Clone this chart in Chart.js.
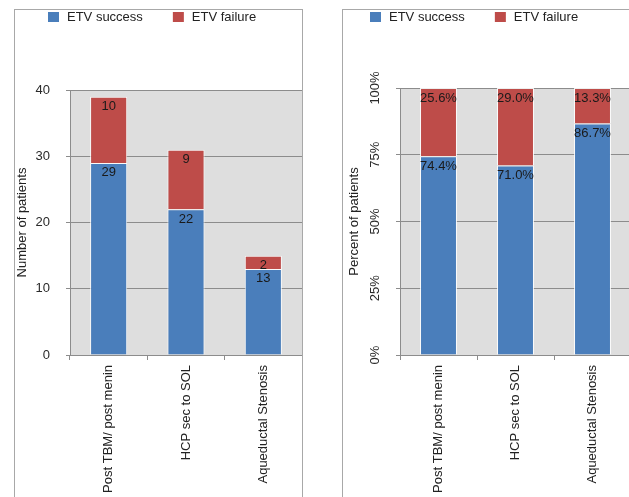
<!DOCTYPE html>
<html>
<head>
<meta charset="utf-8">
<script src="https://cdn.jsdelivr.net/npm/chart.js@4/dist/chart.umd.min.js"></script>
<style>
html, body { margin: 0; padding: 0; background: #fff; width: 629px; height: 497px; overflow: hidden; }
.panel { position: absolute; top: 9px; height: 530px; border: 1px solid #a8a8a8; overflow: hidden; background: #fff; }
#p1 { left: 14px; width: 287px; }
#p2 { left: 342px; width: 300px; }
canvas { display: block; }
</style>
</head>
<body>
<div class="panel" id="p1"><canvas id="countChart" width="287" height="490"></canvas></div>
<div class="panel" id="p2"><canvas id="pctChart" width="288" height="490"></canvas></div>
<script>
// categories + series
const categories = ['Post TBM/ post menin', 'HCP sec to SOL', 'Aqueductal Stenosis'];
const seriesNames = ['ETV success', 'ETV failure'];
const successCount = [29, 22, 13];
const failureCount = [10, 9, 2];
const successPct = [74.4, 71.0, 86.7];
const failurePct = [25.6, 29.0, 13.3];
// axis ticks
const countTicks = [0, 10, 20, 30, 40];
const pctTicks = [0, 25, 50, 75, 100];

const BLUE = '#4a7ebb';
const RED = '#be4c49';
const FONT = "'Liberation Sans', Arial, sans-serif";
const GRID = '#8c8c8c';

Chart.defaults.font.family = FONT;
Chart.defaults.font.size = 13;
Chart.defaults.color = '#2a2a2a';

// grey plot background
const plotBg = {
  id: 'plotBg',
  beforeDraw(c) {
    const a = c.chartArea, ctx = c.ctx;
    ctx.save();
    ctx.fillStyle = '#dedede';
    ctx.fillRect(a.left, a.top, a.right - a.left, a.bottom - a.top);
    ctx.restore();
  }
};

// value labels near the top of each segment
const barLabels = {
  id: 'barLabels',
  afterDatasetsDraw(c, args, opts) {
    const ctx = c.ctx;
    ctx.save();
    ctx.font = '13px ' + FONT;
    ctx.fillStyle = '#1a1a1a';
    ctx.textAlign = 'center';
    ctx.textBaseline = 'middle';
    c.data.datasets.forEach((ds, i) => {
      c.getDatasetMeta(i).data.forEach((el, j) => {
        const v = ds.data[j];
        const txt = opts.pct ? v.toFixed(1) + '%' : String(v);
        ctx.fillText(txt, el.x, el.y + opts.dy);
      });
    });
    ctx.restore();
  }
};

// square-box legend drawn at a fixed start
const boxLegend = {
  id: 'boxLegend',
  afterDraw(c, args, opts) {
    const ctx = c.ctx;
    ctx.save();
    ctx.font = '13px ' + FONT;
    ctx.textBaseline = 'middle';
    ctx.textAlign = 'left';
    let x = opts.x;
    const y = opts.y;
    c.data.datasets.forEach(ds => {
      ctx.fillStyle = ds.backgroundColor;
      ctx.fillRect(x, y - 5, 11, 10);
      x += 11 + 8;
      ctx.fillStyle = '#222';
      ctx.fillText(ds.label, x, y);
      x += ctx.measureText(ds.label).width + opts.gap;
    });
    ctx.restore();
  }
};

// rotated y tick labels (percent chart)
const sideTicks = {
  id: 'sideTicks',
  afterDraw(c, args, opts) {
    if (!opts.on) return;
    const s = c.scales.y, ctx = c.ctx;
    ctx.save();
    ctx.font = '13px ' + FONT;
    ctx.fillStyle = '#2a2a2a';
    ctx.textAlign = 'center';
    ctx.textBaseline = 'middle';
    s.ticks.forEach(t => {
      ctx.save();
      ctx.translate(opts.x, s.getPixelForValue(t.value));
      ctx.rotate(-Math.PI / 2);
      ctx.fillText(t.value + '%', 0, 0);
      ctx.restore();
    });
    ctx.restore();
  }
};

function makeChart(id, succ, fail, cfg) {
  return new Chart(document.getElementById(id), {
    type: 'bar',
    data: {
      labels: categories,
      datasets: [
        { label: seriesNames[0], data: succ, backgroundColor: BLUE, borderColor: 'rgba(255,255,255,0.85)', borderWidth: 1 },
        { label: seriesNames[1], data: fail, backgroundColor: RED, borderColor: 'rgba(255,255,255,0.85)', borderWidth: 1 }
      ]
    },
    options: {
      responsive: false,
      animation: false,
      layout: { padding: { top: cfg.top, left: 0, right: 0, bottom: 0 } },
      datasets: { bar: { categoryPercentage: 1, barPercentage: 0.48 } },
      plugins: {
        legend: { display: false },
        tooltip: { enabled: false },
        barLabels: { pct: cfg.pct, dy: 10 },
        boxLegend: { x: cfg.legendX, y: 7, gap: 30 },
        sideTicks: { on: cfg.pct, x: 32 }
      },
      scales: {
        x: {
          stacked: true,
          grid: { drawOnChartArea: false, offset: true, tickLength: 5, color: GRID },
          border: { color: GRID },
          ticks: { minRotation: 90, maxRotation: 90, padding: 5, color: '#222', autoSkip: false },
          afterFit: s => { s.height = 490 - 345; }
        },
        y: {
          stacked: true,
          min: 0,
          max: cfg.max,
          afterBuildTicks: s => { s.ticks = cfg.ticks.map(v => ({ value: v })); },
          grid: { color: GRID, tickLength: 4 },
          border: { color: GRID },
          ticks: { display: !cfg.pct, padding: 16, color: '#2a2a2a' },
          title: { display: true, text: cfg.title, color: '#222', padding: { top: cfg.titlePad, bottom: 0 } },
          afterFit: s => { s.width = cfg.axisW; }
        }
      }
    },
    plugins: [plotBg, barLabels, boxLegend, sideTicks]
  });
}

makeChart('countChart', successCount, failureCount, {
  pct: false, max: 40, ticks: countTicks, title: 'Number of patients',
  top: 80, axisW: 55, titlePad: 0, legendX: 33
});
makeChart('pctChart', successPct, failurePct, {
  pct: true, max: 100, ticks: pctTicks, title: 'Percent of patients',
  top: 78, axisW: 57, titlePad: 4, legendX: 27
});
</script>
</body>
</html>
